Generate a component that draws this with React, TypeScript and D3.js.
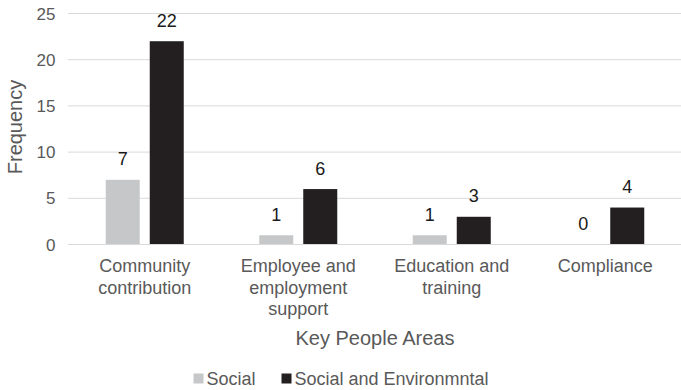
import React from "react";
import * as d3 from "d3";

const categories: string[][] = [
  ["Community", "contribution"],
  ["Employee and", "employment", "support"],
  ["Education and", "training"],
  ["Compliance"],
];
const categoryKeys = ["Community contribution", "Employee and employment support", "Education and training", "Compliance"];
const seriesNames = ["Social", "Social and Environmntal"];
const socialValues = [7, 1, 1, 0];
const socialEnvValues = [22, 6, 3, 4];
const yTicks = [0, 5, 10, 15, 20, 25];
const colors = ["#c6c7c8", "#231f20"];

const W = 681;
const H = 390;
const FONT = "'Liberation Sans', Arial, sans-serif";

export default function App() {
  const x = d3.scaleBand<string>().domain(categoryKeys).range([68, 682]).paddingInner(0).paddingOuter(0);
  const y = d3.scaleLinear().domain([0, 25]).range([244.5, 13.5]);
  const barW = 34;
  const gap = 10;
  const series = [socialValues, socialEnvValues];

  return (
    <svg width={W} height={H} style={{ position: "absolute", left: 0, top: 0, background: "#fff" }}>
      <rect width={W} height={H} fill="#fff" />
      {yTicks.map((t) => (
        <g key={t}>
          <line x1={68} x2={682} y1={y(t)} y2={y(t)} stroke="#d9d9d9" strokeWidth={1} />
          <text x={55.5} y={y(t)} dy="0.36em" textAnchor="end" fontFamily={FONT} fontSize={17} fill="#595959">
            {t}
          </text>
        </g>
      ))}
      {categoryKeys.map((c, i) => {
        const cx = (x(c) as number) + x.bandwidth() / 2;
        return (
          <g key={c}>
            {series.map((vals, s) => {
              const bx = s === 0 ? cx - gap / 2 - barW : cx + gap / 2;
              const v = vals[i];
              return (
                <g key={s}>
                  {v > 0 && (
                    <rect x={bx} y={y(v)} width={barW} height={y(0) - y(v)} fill={colors[s]} />
                  )}
                  <text x={bx + barW / 2} y={y(v) - 14.5} textAnchor="middle" fontFamily={FONT} fontSize={18} fill="#1a1a1a">
                    {v}
                  </text>
                </g>
              );
            })}
            {categories[i].map((line, k) => (
              <text key={k} x={cx} y={272 + k * 21.5} textAnchor="middle" fontFamily={FONT} fontSize={18} fill="#595959">
                {line}
              </text>
            ))}
          </g>
        );
      })}
      <line x1={68} x2={682} y1={y(0)} y2={y(0)} stroke="#d9d9d9" strokeWidth={1} />
      <text
        transform={`translate(21.5,127) rotate(-90)`}
        textAnchor="middle"
        fontFamily={FONT}
        fontSize={20}
        fill="#595959"
      >
        Frequency
      </text>
      <text x={375} y={345} textAnchor="middle" fontFamily={FONT} fontSize={20} fill="#595959">
        Key People Areas
      </text>
      <g>
        <rect x={193.5} y={373.5} width={10} height={10} fill={colors[0]} />
        <text x={206.5} y={384.5} fontFamily={FONT} fontSize={18} fill="#595959">
          {seriesNames[0]}
        </text>
        <rect x={281.5} y={373.5} width={10} height={10} fill={colors[1]} />
        <text x={294.5} y={384.5} fontFamily={FONT} fontSize={18} fill="#595959">
          {seriesNames[1]}
        </text>
      </g>
    </svg>
  );
}
